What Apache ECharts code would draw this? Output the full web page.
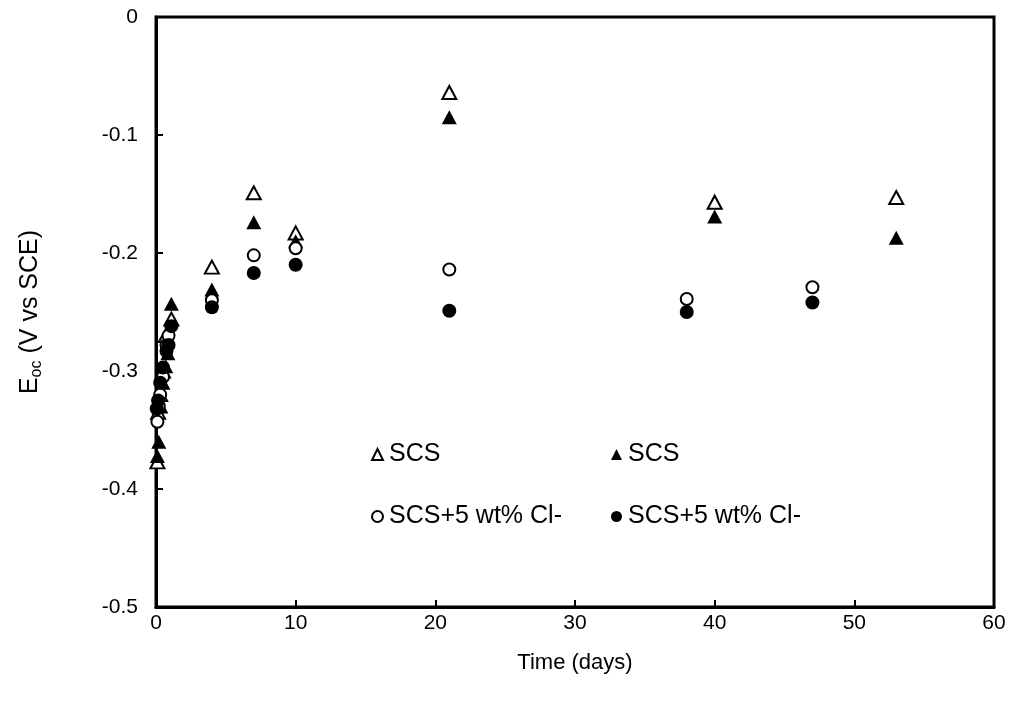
<!DOCTYPE html>
<html>
<head>
<meta charset="utf-8">
<script src="https://cdn.jsdelivr.net/npm/echarts@6/dist/echarts.min.js"></script>
<style>html,body{margin:0;padding:0;background:#fff}#c{width:1013px;height:710px}</style>
</head>
<body>
<div id="c"></div>
<script>
// [time (days), Eoc (V vs SCE)]
const scsOpen = [[0.1,-0.377],[0.15,-0.335],[0.3,-0.32],[0.5,-0.30],[0.7,-0.27],[1.1,-0.256],[4,-0.212],[7,-0.149],[10,-0.183],[21,-0.064],[40,-0.157],[53,-0.153]];
const scsFilled = [[0.1,-0.372],[0.2,-0.36],[0.35,-0.33],[0.5,-0.31],[0.7,-0.296],[0.85,-0.285],[1.1,-0.243],[4,-0.231],[7,-0.174],[10,-0.19],[21,-0.085],[40,-0.169],[53,-0.187]];
const clOpen = [[0.1,-0.343],[0.2,-0.33],[0.3,-0.32],[0.5,-0.305],[0.75,-0.278],[0.9,-0.27],[4,-0.240],[7,-0.202],[10,-0.196],[21,-0.214],[38,-0.239],[47,-0.229]];
const clFilled = [[0.05,-0.332],[0.15,-0.325],[0.3,-0.31],[0.5,-0.297],[0.75,-0.283],[0.9,-0.278],[1.1,-0.262],[4,-0.246],[7,-0.217],[10,-0.210],[21,-0.249],[38,-0.25],[47,-0.242]];
const seriesNames = ['SCS_open','SCS_filled','Cl_open','Cl_filled'];
const legendLabels = {SCS_open:'SCS', SCS_filled:'SCS', Cl_open:'SCS+5 wt% Cl-', Cl_filled:'SCS+5 wt% Cl-'};
const xTicks = [0,10,20,30,40,50,60];
const yTicks = [0,-0.1,-0.2,-0.3,-0.4,-0.5];

const FONT = 'Liberation Sans, Arial, sans-serif';
const chart = echarts.init(document.getElementById('c'));
const triOpen = {symbol:'triangle', symbolSize:[14,13], itemStyle:{color:'#fff', borderColor:'#000', borderWidth:2, opacity:1}};
const triFill = {symbol:'triangle', symbolSize:[15,14], itemStyle:{color:'#000', borderColor:'#000', borderWidth:0, opacity:1}};
const cirOpen = {symbol:'circle', symbolSize:12, itemStyle:{color:'#fff', borderColor:'#000', borderWidth:2, opacity:1}};
const cirFill = {symbol:'circle', symbolSize:14, itemStyle:{color:'#000', borderColor:'#000', borderWidth:0, opacity:1}};
function legend(name, left, top){
  return {data:[name], left:left, top:top, itemWidth:11, itemHeight:11, itemGap:4, selectedMode:false,
    formatter: n => legendLabels[n], textStyle:{fontFamily:FONT, fontSize:25, color:'#000', padding:[0,0,0,1]}};
}
chart.setOption({
  animation:false,
  grid:{left:156, right:19, top:17, bottom:103, show:true, borderColor:'#000', borderWidth:3},
  legend:[legend('SCS_open',366,437), legend('SCS_filled',606,437), legend('Cl_open',366,499), legend('Cl_filled',606,499)],
  xAxis:{type:'value', min:0, max:60, interval:10,
    name:'Time (days)', nameLocation:'middle', nameGap:45,
    nameTextStyle:{fontFamily:FONT, fontSize:22, color:'#000'},
    axisLine:{onZero:false, lineStyle:{color:'#000', width:3}},
    axisTick:{inside:true, length:7, lineStyle:{color:'#000', width:2}},
    axisLabel:{margin:6, fontFamily:FONT, fontSize:21, color:'#000', formatter:v=>xTicks.includes(v)?String(v):''},
    splitLine:{show:false}},
  yAxis:{type:'value', min:-0.5, max:0, interval:0.1,
    name:'{a|E}{b|oc}{a| (V vs SCE)}', nameLocation:'middle', nameGap:111,
    nameTextStyle:{fontFamily:FONT, color:'#000', rich:{
      a:{fontFamily:FONT, fontSize:25, color:'#000', lineHeight:30},
      b:{fontFamily:FONT, fontSize:16, color:'#000', verticalAlign:'bottom', lineHeight:30, padding:[10,0,0,0]}}},
    axisLine:{onZero:false, lineStyle:{color:'#000', width:3}},
    axisTick:{inside:true, length:7, lineStyle:{color:'#000', width:2}},
    axisLabel:{margin:18, fontFamily:FONT, fontSize:21, color:'#000',
      formatter:v=>{const r=Math.round(v*10)/10; return r===0?'0':r.toFixed(1);}},
    splitLine:{show:false}},
  series:[
    Object.assign({type:'scatter', name:'SCS_open', data:scsOpen, z:2}, triOpen),
    Object.assign({type:'scatter', name:'SCS_filled', data:scsFilled, z:3}, triFill),
    Object.assign({type:'scatter', name:'Cl_open', data:clOpen, z:4}, cirOpen),
    Object.assign({type:'scatter', name:'Cl_filled', data:clFilled, z:5}, cirFill)
  ]
});
</script>
</body>
</html>
